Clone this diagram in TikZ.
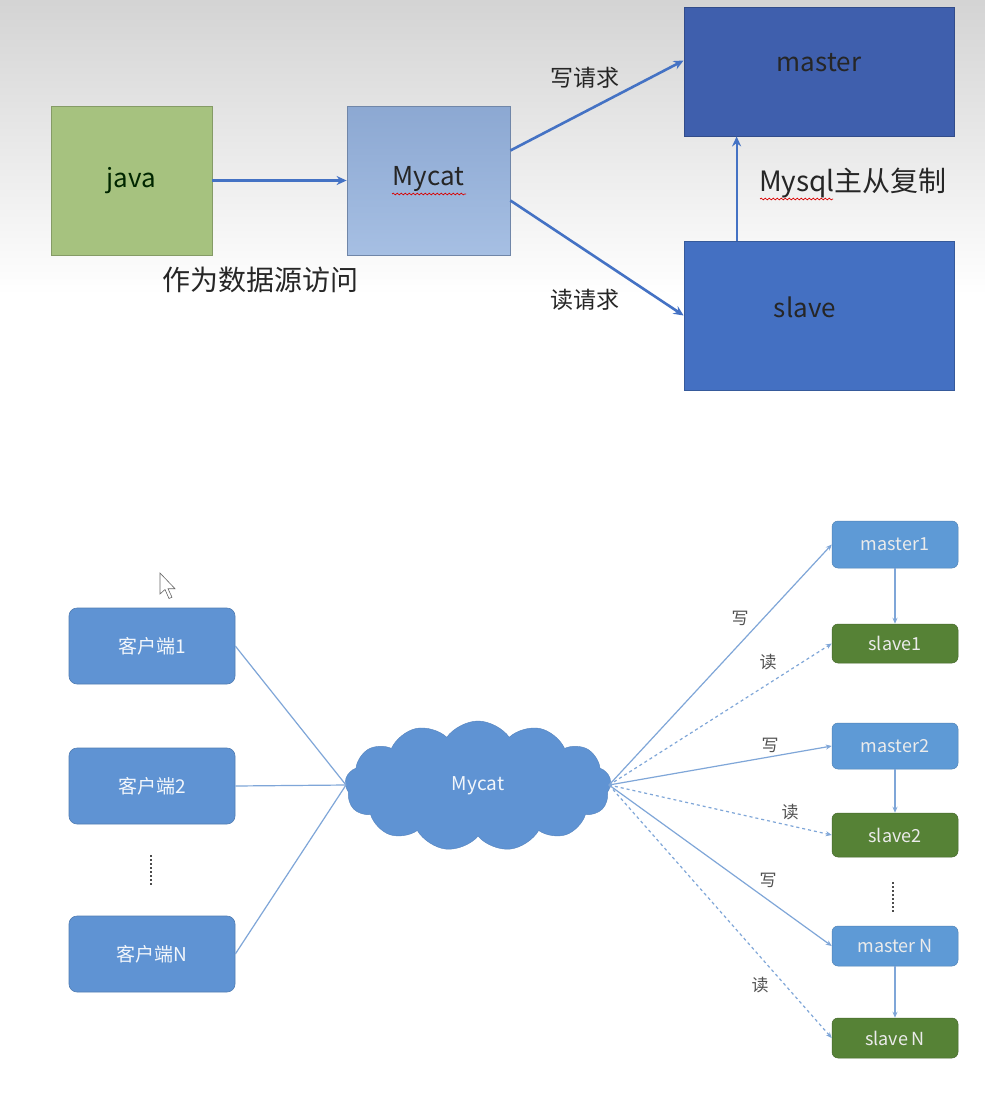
\documentclass[tikz,border=0pt]{standalone}
\usepackage{fontspec}
\setmainfont{Noto Sans CJK SC}
\usetikzlibrary{arrows.meta,shapes.symbols,decorations.pathmorphing}
\definecolor{javagreen}{HTML}{A6C27F}
\definecolor{mycattop}{HTML}{8CA8D2}
\definecolor{mycatbot}{HTML}{A6BFE3}
\definecolor{masterblue}{HTML}{3F5FAD}
\definecolor{slaveblue}{HTML}{4470C2}
\definecolor{arrowblue}{HTML}{4472C4}
\definecolor{clientblue}{HTML}{5F93D3}
\definecolor{bmaster}{HTML}{5E9AD6}
\definecolor{bslave}{HTML}{568236}
\definecolor{linec}{HTML}{7FA6D8}
\definecolor{txt}{HTML}{262626}
\tikzset{
  bigbox/.style={draw=#1!80!black, line width=0.8pt, inner sep=0pt},
  bigtxt/.style={text=txt, font=\fontsize{26}{30}\selectfont, inner sep=0pt},
  thickarr/.style={draw=arrowblue, line width=2.6pt, -{Stealth[length=10pt,width=9pt]}},
  client/.style={fill=clientblue, draw=clientblue!85!black, line width=0.6pt, rounded corners=8pt,
    minimum width=166pt, minimum height=76pt, inner sep=0pt, text=white!92!clientblue,
    font=\fontsize{19}{21}\selectfont},
  rbox/.style={rounded corners=6pt, minimum width=126pt, inner sep=0pt, text=white!92!black,
    font=\fontsize{18}{20}\selectfont},
  rmaster/.style={rbox, fill=bmaster, draw=bmaster!85!black, line width=0.5pt},
  rslave/.style={rbox, fill=bslave, draw=bslave!80!black, line width=0.5pt},
  thin/.style={draw=linec, line width=1.2pt},
  thinarr/.style={thin, -{Stealth[length=6pt,width=5pt]}},
  smalltxt/.style={text=txt!80, font=\fontsize{17}{19}\selectfont, inner sep=0pt},
  dots/.style={draw=black!70, line width=2.4pt, dash pattern=on 1.6pt off 2.4pt},
  wavy/.style={draw=red!85!black, line width=0.7pt, decorate, decoration={snake, amplitude=0.9pt, segment length=4pt}}
}
\begin{document}
\begin{tikzpicture}[x=1pt,y=-1pt]
\useasboundingbox (0,0) rectangle (985,1101);
\fill[white] (0,0) rectangle (985,1101);
\shade[top color=black!17, bottom color=white] (0,0) rectangle (985,295);

% ---------- top diagram ----------
\node[bigbox=javagreen, fill=javagreen, minimum width=161pt, minimum height=149pt] (java) at (131.5,180.5) {};
\node[bigtxt, text=black!85!green] (javat) at (131.5,181) {java};
\node[bigbox=mycattop, top color=mycattop, bottom color=mycatbot, minimum width=163pt, minimum height=149pt] (mycat) at (428.5,180.5) {};
\node[bigtxt] (mycatt) at (428.5,179) {Mycat};
\coordinate (w1a) at (392,194);
\coordinate (w1b) at (466,194);
\draw[wavy] (w1a) -- (w1b);

\node[bigbox=masterblue, fill=masterblue, minimum width=270pt, minimum height=129pt] (master) at (819,71.5) {};
\node[bigtxt] (mastert) at (819,63) {master};
\node[bigbox=slaveblue, fill=slaveblue, minimum width=270pt, minimum height=149pt] (slave) at (819,315.5) {};
\node[bigtxt] (slavet) at (805,307) {slave};

\draw[thickarr] (java.east) -- (mycat.west);
\draw[thickarr] ([yshift=30pt]mycat.east) -- ([yshift=11pt]master.west);
\draw[thickarr] ([yshift=-20pt]mycat.east) -- (slave.west);
\draw[thickarr, line width=2.2pt] ([xshift=53pt]slave.north west) -- ([xshift=53pt]master.south west);

\node[bigtxt, font=\fontsize{23}{26}\selectfont] (wq) at (585,78) {写请求};
\node[bigtxt, font=\fontsize{23}{26}\selectfont] (rq) at (585,300) {读请求};
\node[bigtxt, font=\fontsize{28}{32}\selectfont] (repl) at (853,183) {Mysql主从复制};
\coordinate (w2a) at (760,199);
\coordinate (w2b) at (833,199);
\draw[wavy] (w2a) -- (w2b);
\node[bigtxt, font=\fontsize{28}{32}\selectfont] (ds) at (260,280) {作为数据源访问};

% ---------- bottom diagram ----------
% mouse cursor
\coordinate (cur) at (160,573);
\draw[fill=white, draw=black!60, line width=0.6pt] (cur) -- ++(0,21) -- ++(5,-4.5) -- ++(4,9) -- ++(3,-1.3) -- ++(-4,-8.5) -- ++(7,0) -- cycle;

\node[client] (c1) at (152,646) {客户端1};
\node[client] (c2) at (152,786) {客户端2};
\node[client] (cN) at (152,954) {客户端N};
\coordinate (d1a) at (151,855);
\coordinate (d1b) at (151,886);
\draw[dots] (d1a) -- (d1b);

\node[cloud, cloud puffs=13, cloud puff arc=110, aspect=2.1, fill=clientblue, draw=clientblue!90!black,
  minimum width=266pt, minimum height=130pt, inner sep=0pt, text=white!92!clientblue,
  font=\fontsize{19}{21}\selectfont] (cloud) at (478,786) {Mycat};

\coordinate (hubL) at (346,785);
\coordinate (hubR) at (609,785);
\draw[thin] (c1.east) -- (hubL);
\draw[thin] (c2.east) -- (hubL);
\draw[thin] (cN.east) -- (hubL);

\node[rmaster, minimum height=47pt] (m1) at (895,544.5) {master1};
\node[rslave, minimum height=39pt] (s1) at (895,643.5) {slave1};
\node[rmaster, minimum height=46pt] (m2) at (895,746) {master2};
\node[rslave, minimum height=44pt] (s2) at (895,835) {slave2};
\node[rmaster, minimum height=40pt] (mN) at (895,946) {master N};
\node[rslave, minimum height=40pt] (sN) at (895,1038) {slave N};
\coordinate (d2a) at (893,882);
\coordinate (d2b) at (893,912);
\draw[dots] (d2a) -- (d2b);

\draw[thinarr] (hubR) -- (m1.west);
\draw[thinarr, dashed] (hubR) -- (s1.west);
\draw[thinarr] (hubR) -- (m2.west);
\draw[thinarr, dashed] (hubR) -- (s2.west);
\draw[thinarr] (hubR) -- (mN.west);
\draw[thinarr, dashed] (hubR) -- (sN.west);

\draw[thinarr] (m1.south) -- (s1.north);
\draw[thinarr] (m2.south) -- (s2.north);
\draw[thinarr] (mN.south) -- (sN.north);

\node[smalltxt] (l1) at (740,618) {写};
\node[smalltxt] (l2) at (768,662) {读};
\node[smalltxt] (l3) at (770,745) {写};
\node[smalltxt] (l4) at (790,812) {读};
\node[smalltxt] (l5) at (768,880) {写};
\node[smalltxt] (l6) at (760,985) {读};
\end{tikzpicture}
\end{document}
